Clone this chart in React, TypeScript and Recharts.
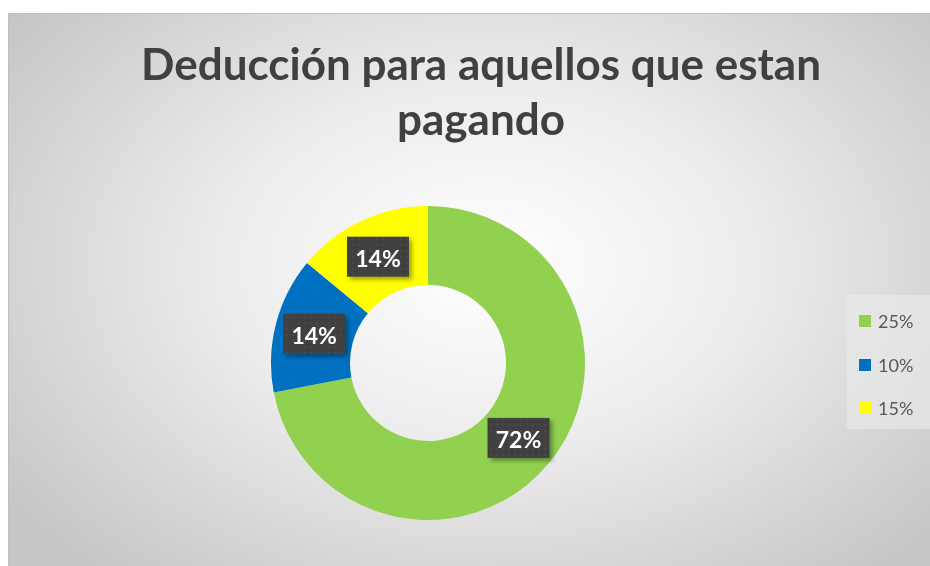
import { PieChart, Pie, Cell } from "recharts";

const categories = ["25%", "10%", "15%"];
const shares = [72, 14, 14];
const colors = ["#92d050", "#0070c0", "#ffff00"];

const data = categories.map((name, i) => ({ name, value: shares[i] }));
const total = shares.reduce((a, b) => a + b, 0);

const RAD = Math.PI / 180;

function renderLabel(props: any) {
  const { cx, cy, innerRadius, outerRadius, midAngle, value } = props;
  const r = (innerRadius + outerRadius) / 2;
  const x = cx + r * Math.cos(-midAngle * RAD);
  const y = cy + r * Math.sin(-midAngle * RAD);
  const w = 62;
  const h = 40;
  return (
    <g>
      <rect x={x - w / 2} y={y - h / 2} width={w} height={h} fill="url(#dots)" filter="url(#lblShadow)" />
      <text
        x={x}
        y={y + 1}
        textAnchor="middle"
        dominantBaseline="central"
        fill="#ffffff"
        fontSize={23}
        fontWeight={700}
        fontFamily="Lato, 'Open Sans', sans-serif"
      >
        {Math.round((value / total) * 100)}%
      </text>
    </g>
  );
}

export default function App() {
  return (
    <div style={{ position: "fixed", left: 8, top: 8, width: 922, height: 558, overflow: "hidden" }}>
      <div
        style={{
          position: "absolute",
          left: 0,
          top: 5,
          width: 960,
          height: 600,
          boxSizing: "border-box",
          border: "1px solid #bfbfbf",
          background: "radial-gradient(ellipse 62% 68% at 50% 42%, #ffffff 0%, #ececec 45%, #d0d0d0 85%, #c6c6c6 100%)",
        }}
      />
      <div
        style={{
          position: "absolute",
          left: 0,
          top: 28,
          width: 946,
          textAlign: "center",
          fontFamily: "Lato, 'Open Sans', sans-serif",
          fontWeight: 700,
          fontSize: 44,
          lineHeight: "55px",
          color: "#404040",
        }}
      >
        Deducción para aquellos que estan
        <br />
        pagando
      </div>
      <div
        style={{
          position: "absolute",
          left: 839,
          top: 287,
          width: 90,
          height: 134,
          background: "rgba(235,235,235,0.6)",
        }}
      >
        {categories.map((c, i) => (
          <div
            key={c}
            style={{
              position: "absolute",
              left: 12,
              top: 15 + i * 43.5,
              display: "flex",
              alignItems: "center",
              fontFamily: "Lato, 'Open Sans', sans-serif",
              fontSize: 18,
              color: "#595959",
            }}
          >
            <span style={{ display: "inline-block", width: 12, height: 12, background: colors[i], marginRight: 7 }} />
            {c}
          </div>
        ))}
      </div>
      <div style={{ position: "absolute", left: 0, top: 0 }}>
        <PieChart width={922} height={558} margin={{ top: 0, right: 0, bottom: 0, left: 0 }}>
          <defs>
            <pattern id="dots" width="6" height="6" patternUnits="userSpaceOnUse">
              <rect width="6" height="6" fill="#404040" />
              <rect x="2" y="2" width="2" height="2" fill="#4a4a4a" />
            </pattern>
            <filter id="lblShadow" x="-20%" y="-20%" width="150%" height="160%">
              <feDropShadow dx="3" dy="3" stdDeviation="2" floodColor="#000" floodOpacity="0.35" />
            </filter>
          </defs>
          <Pie
            data={data}
            dataKey="value"
            nameKey="name"
            cx={420}
            cy={355}
            innerRadius={78}
            outerRadius={157}
            startAngle={90}
            endAngle={-270}
            stroke="none"
            label={renderLabel}
            labelLine={false}
            isAnimationActive={false}
          >
            {data.map((d, i) => (
              <Cell key={d.name} fill={colors[i]} />
            ))}
          </Pie>
        </PieChart>
      </div>
    </div>
  );
}
